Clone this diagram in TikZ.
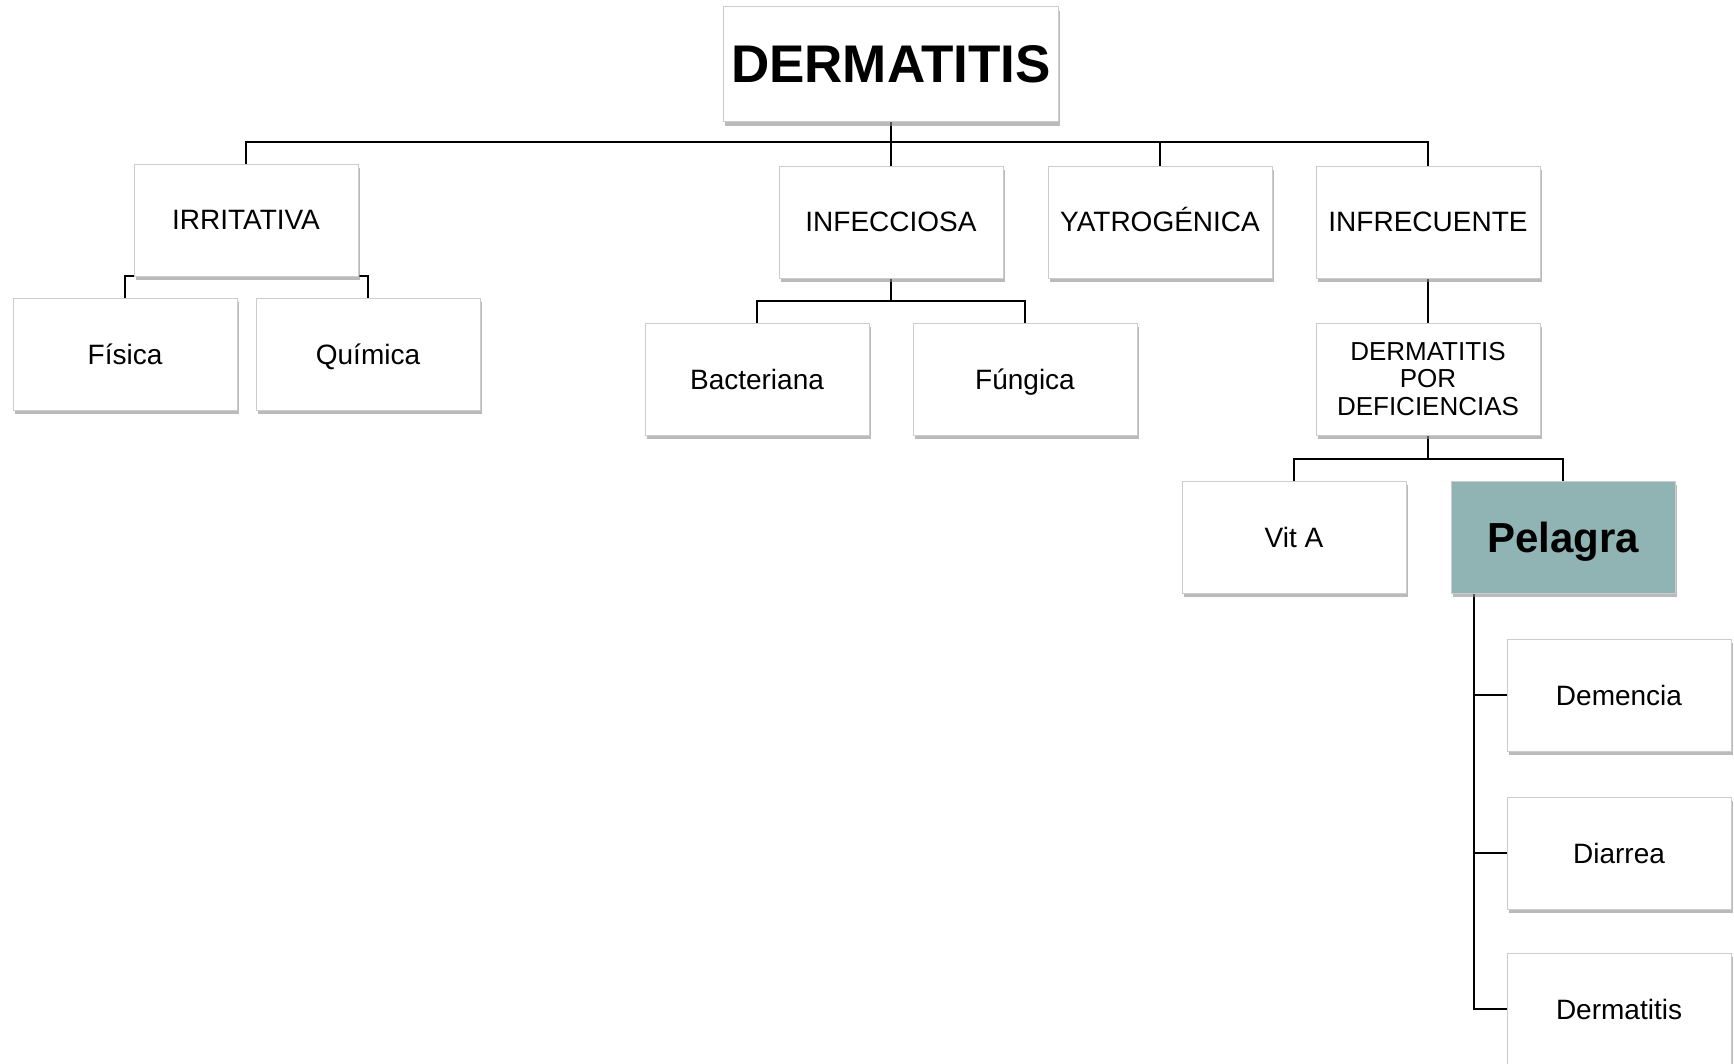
\documentclass[tikz,border=0pt]{standalone}
\usepackage{fontspec}
\setmainfont{Liberation Sans}
\usetikzlibrary{shadows,backgrounds}
\definecolor{pelagra}{HTML}{8FB4B3}

\begin{document}
\begin{tikzpicture}[x=0.5pt, y=-0.5pt,
	cajabase/.style={draw=black!20, fill=white, minimum width=112pt, minimum height=56pt, inner sep=2pt, align=center, font=\fontsize{14}{15}\selectfont, drop shadow={shadow xshift=0.8pt, shadow yshift=-2.2pt, fill=black!45, opacity=0.6}},
	caja/.style={cajabase, text height=10pt, text depth=0pt},
	linea/.style={black, line width=1pt}]
	\useasboundingbox (0,0) rectangle (1734,1064);
	\node[caja, minimum width=167.5pt, minimum height=57.5pt, text height=19pt, font=\bfseries\fontsize{26.5}{28}\selectfont] (derm) at (891,64) {DERMATITIS};
	\node[caja] (irr) at (246,220) {IRRITATIVA};
	\node[caja] (inf) at (891,222) {INFECCIOSA};
	\node[caja] (yat) at (1160,222) {YATROGÉNICA};
	\node[caja] (infr) at (1428,222) {INFRECUENTE};
	\node[caja] (fis) at (125,354) {Física};
	\node[caja] (qui) at (368,354) {Química};
	\node[caja] (bac) at (757,379) {Bacteriana};
	\node[caja] (fun) at (1025,379) {Fúngica};
	\node[cajabase, font=\fontsize{13}{13.75}\selectfont] (def) at (1428,379) {DERMATITIS\\POR\\DEFICIENCIAS};
	\node[caja] (vit) at (1294,537) {Vit A};
	\node[caja, fill=pelagra, text height=15pt, font=\bfseries\fontsize{21}{22}\selectfont] (pel) at (1563,537) {Pelagra};
	\node[caja] (dem) at (1619,695) {Demencia};
	\node[caja] (dia) at (1619,853) {Diarrea};
	\node[caja] (der) at (1619,1009) {Dermatitis};
	\begin{pgfonlayer}{background}
		\fill[white] (0,0) rectangle (1734,1064);
		\draw[linea] (derm.south) -- ++(0,20) -| (irr.north);
		\draw[linea] (derm.south) -- ++(0,20) -| (inf.north);
		\draw[linea] (derm.south) -- ++(0,20) -| (yat.north);
		\draw[linea] (derm.south) -- ++(0,20) -| (infr.north);
		\draw[linea] (irr.south) -| (fis.north);
		\draw[linea] (irr.south) -| (qui.north);
		\draw[linea] (inf.south) -- ++(0,23) -| (bac.north);
		\draw[linea] (inf.south) -- ++(0,23) -| (fun.north);
		\draw[linea] (infr) -- (def);
		\draw[linea] (def.south) -- ++(0,24) -| (vit.north);
		\draw[linea] (def.south) -- ++(0,24) -| (pel.north);
		\draw[linea] ([xshift=-44.5pt]pel.south) |- (dem.west);
		\draw[linea] ([xshift=-44.5pt]pel.south) |- (dia.west);
		\draw[linea] ([xshift=-44.5pt]pel.south) |- (der.west);
	\end{pgfonlayer}
\end{tikzpicture}
\end{document}
